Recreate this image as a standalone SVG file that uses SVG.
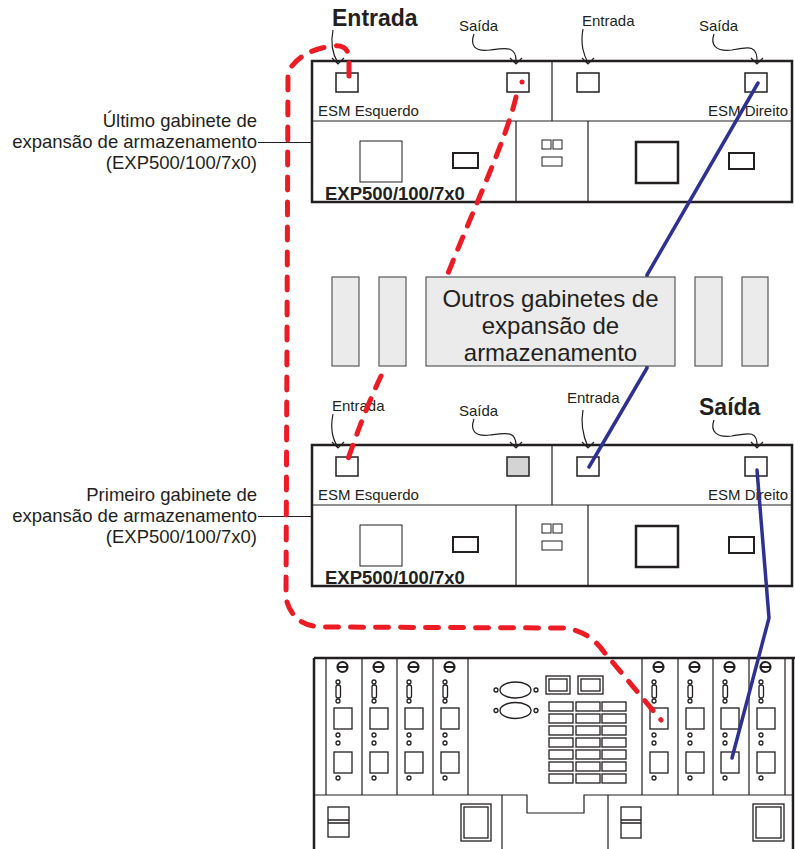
<svg xmlns="http://www.w3.org/2000/svg" xmlns:xlink="http://www.w3.org/1999/xlink" width="795" height="849" viewBox="0 0 795 849">
<defs>
<style>
.t{font-family:"Liberation Sans",Arial,sans-serif;fill:#231f20}
.thk{fill:none;stroke:#231f20;stroke-width:2.5}
.thn{fill:none;stroke:#231f20;stroke-width:1.2}
.prt{fill:#fff;stroke:#231f20;stroke-width:1.5}
.arr{fill:none;stroke:#231f20;stroke-width:1.2}
.gb{fill:#ebebeb;stroke:#58595b;stroke-width:1.2}
.red{fill:none;stroke:#ed1c24;stroke-width:5;stroke-dasharray:13 12;stroke-linecap:round;stroke-linejoin:round}
.blue{fill:none;stroke:#2e3192;stroke-width:3.5;stroke-linecap:round;stroke-linejoin:round}
.m{fill:none;stroke:#231f20;stroke-width:1.3}
</style>
<path id="ah" d="M-6,-6 L0,0 L6,-6" fill="none" stroke="#231f20" stroke-width="1.2"/>
<g id="encl">
<rect x="312" y="61" width="480" height="141" class="thk"/>
<path d="M312,121 H792 M552,61 V121 M516,121 V202 M588,121 V202" class="thn"/>
<rect x="336" y="73" width="22" height="19" class="prt"/>
<rect x="577" y="73" width="22" height="19" class="prt"/>
<rect x="745" y="73" width="22" height="19" class="prt"/>
<text x="318" y="116" class="t" font-size="15">ESM Esquerdo</text>
<text x="788" y="116" class="t" font-size="15" text-anchor="end">ESM Direito</text>
<rect x="360" y="141" width="42" height="41" fill="none" stroke="#231f20" stroke-width="1"/>
<rect x="453" y="153" width="25" height="15" fill="none" stroke="#231f20" stroke-width="2"/>
<rect x="542" y="140" width="9" height="9" fill="none" stroke="#231f20" stroke-width="1"/>
<rect x="553" y="140" width="9" height="9" fill="none" stroke="#231f20" stroke-width="1"/>
<rect x="542" y="157" width="20" height="9" fill="none" stroke="#231f20" stroke-width="1"/>
<rect x="636" y="142" width="42" height="41" fill="none" stroke="#231f20" stroke-width="2.5"/>
<rect x="729" y="153" width="25" height="16" fill="none" stroke="#231f20" stroke-width="2"/>
<text x="325" y="200" class="t" font-size="18.5" font-weight="bold">EXP500/100/7x0</text>
</g>
<g id="mod" class="m">
<circle cx="16.5" cy="667" r="5" stroke-width="2.2"/>
<path d="M12,667 H21" stroke-width="2"/>
<circle cx="12" cy="682" r="2"/>
<rect x="10" y="685" width="4.5" height="13" rx="2"/>
<circle cx="12" cy="701" r="2"/>
<rect x="8" y="708" width="18" height="21"/>
<circle cx="12" cy="735" r="2"/>
<circle cx="12" cy="743" r="2"/>
<rect x="8" y="752" width="18" height="21"/>
<circle cx="12" cy="778" r="2"/>
</g>
</defs>

<g id="top-enclosure">
<use xlink:href="#encl"/>
<rect x="507" y="73" width="22" height="19" class="prt"/>
</g>

<g id="bottom-enclosure">
<use xlink:href="#encl" y="384"/>
<rect x="507" y="457" width="22" height="19" fill="#d4d4d4" stroke="#231f20" stroke-width="1.5"/>
</g>

<g id="label-last">
<text class="t" font-size="18.5" text-anchor="end"><tspan x="257" y="127">Último gabinete de</tspan><tspan x="257" y="148">expansão de armazenamento</tspan><tspan x="257" y="169">(EXP500/100/7x0)</tspan></text>
<path d="M258,142.5 H312" class="thn"/>
</g>

<g id="label-first">
<text class="t" font-size="18.5" text-anchor="end"><tspan x="257" y="501">Primeiro gabinete de</tspan><tspan x="257" y="522">expansão de armazenamento</tspan><tspan x="257" y="543">(EXP500/100/7x0)</tspan></text>
<path d="M258,516.5 H312" class="thn"/>
</g>

<g id="controller">
<path d="M314,658 H795 M314,658 V849 M793,658 V849" class="thk"/>
<path d="M326,658 V795 M362,658 V795 M397,658 V795 M433,658 V795 M468,658 V795 M642,658 V795 M678,658 V795 M713,658 V795 M749,658 V795 M785,658 V795" class="thn"/>
<use xlink:href="#mod" x="326"/>
<use xlink:href="#mod" x="362"/>
<use xlink:href="#mod" x="397"/>
<use xlink:href="#mod" x="433"/>
<use xlink:href="#mod" x="642"/>
<use xlink:href="#mod" x="678"/>
<use xlink:href="#mod" x="713"/>
<use xlink:href="#mod" x="749"/>
<g class="m">
<ellipse cx="515.5" cy="690" rx="15.5" ry="8"/>
<ellipse cx="515.5" cy="710.5" rx="15.5" ry="8"/>
<circle cx="496" cy="690" r="2"/><circle cx="536" cy="690" r="2"/>
<circle cx="496" cy="710.5" r="2"/><circle cx="536" cy="710.5" r="2"/>
<rect x="546" y="676" width="24" height="18"/><rect x="549" y="679" width="18" height="12"/>
<rect x="578" y="676" width="25" height="18"/><rect x="581" y="679" width="19" height="12"/>
</g>
<g class="m" stroke-width="1.5">
<rect x="549" y="702" width="24" height="9"/><rect x="576" y="702" width="24" height="9"/><rect x="602" y="702" width="24" height="9"/>
<rect x="549" y="714" width="24" height="9"/><rect x="576" y="714" width="24" height="9"/><rect x="602" y="714" width="24" height="9"/>
<rect x="549" y="726" width="24" height="9"/><rect x="576" y="726" width="24" height="9"/><rect x="602" y="726" width="24" height="9"/>
<rect x="549" y="738" width="24" height="9"/><rect x="576" y="738" width="24" height="9"/><rect x="602" y="738" width="24" height="9"/>
<rect x="549" y="750" width="24" height="9"/><rect x="576" y="750" width="24" height="9"/><rect x="602" y="750" width="24" height="9"/>
<rect x="549" y="762" width="24" height="9"/><rect x="576" y="762" width="24" height="9"/><rect x="602" y="762" width="24" height="9"/>
<rect x="549" y="774" width="24" height="9"/><rect x="576" y="774" width="24" height="9"/><rect x="602" y="774" width="24" height="9"/>
</g>
<path d="M314,795 H527 V813 H584 V795 H793 M502,795 V849 M608,795 V849" class="thn"/>
<g class="m">
<rect x="328" y="807" width="21" height="30"/><path d="M328,820 H349 M328,823 H349"/>
<rect x="621" y="807" width="20" height="31"/><path d="M621,820 H641 M621,823 H641"/>
<rect x="461" y="804" width="30" height="37"/><rect x="464" y="807" width="24" height="31"/>
<rect x="753" y="804" width="31" height="37"/><rect x="756" y="807" width="25" height="31"/>
</g>
</g>

<g id="port-labels">
<text x="332" y="26" class="t" font-size="23" font-weight="bold">Entrada</text>
<text x="459" y="31" class="t" font-size="15">Saída</text>
<text x="582" y="26" class="t" font-size="15">Entrada</text>
<text x="699" y="31" class="t" font-size="15">Saída</text>
<text x="332" y="411" class="t" font-size="15">Entrada</text>
<text x="459" y="416" class="t" font-size="15">Saída</text>
<text x="567" y="403" class="t" font-size="15">Entrada</text>
<text x="699" y="415" class="t" font-size="23" font-weight="bold">Saída</text>
</g>

<g id="pointers">
<path class="arr" d="M333,30 C330,45 333,55 338,63"/><use xlink:href="#ah" x="338" y="64"/>
<path class="arr" d="M474,34 C470,45 474,52 490,50 C505,48 517,45 516,63"/><use xlink:href="#ah" x="516" y="64"/>
<path class="arr" d="M583,29 C580,45 584,55 588,63"/><use xlink:href="#ah" x="588" y="64"/>
<path class="arr" d="M714,34 C710,45 716,52 732,50 C748,47 758,44 757,63"/><use xlink:href="#ah" x="757" y="64"/>
<path class="arr" d="M333,414 C330,429 333,440 338,447"/><use xlink:href="#ah" x="338" y="448"/>
<path class="arr" d="M474,419 C470,430 474,437 490,435 C505,433 517,430 516,447"/><use xlink:href="#ah" x="516" y="448"/>
<path class="arr" d="M583,410 C580,426 584,438 588,447"/><use xlink:href="#ah" x="588" y="448"/>
<path class="arr" d="M714,420 C710,431 716,438 732,436 C748,433 758,430 757,447"/><use xlink:href="#ah" x="757" y="448"/>
</g>

<g id="connectors">
<path class="red" d="M349,76 L349,58 Q348,44 333,46 Q300,50 288,72 L286,598 Q292,626 322,627 L566,628 Q590,632 604,652 L661,720"/>
<circle cx="522" cy="82" r="2.5" fill="#ed1c24"/>
<path class="red" d="M516,97 C506,140 475,205 447,276"/>
<path class="red" d="M381,376 Q364,412 347,462"/>
<path class="blue" d="M758,83 L647,275 L647,368 L589,467"/>
<path class="blue" d="M757,470 L769,618 L732,758"/>
</g>

<g id="other-enclosures">
<rect x="332" y="277" width="27" height="89" class="gb"/>
<rect x="379" y="277" width="27" height="89" class="gb"/>
<rect x="426" y="277" width="249" height="89" class="gb"/>
<rect x="695" y="277" width="27" height="89" class="gb"/>
<rect x="742" y="277" width="26" height="89" class="gb"/>
<text class="t" font-size="24" text-anchor="middle"><tspan x="550.5" y="307">Outros gabinetes de</tspan><tspan x="550.5" y="334">expansão de</tspan><tspan x="550.5" y="361">armazenamento</tspan></text>
</g>
</svg>
